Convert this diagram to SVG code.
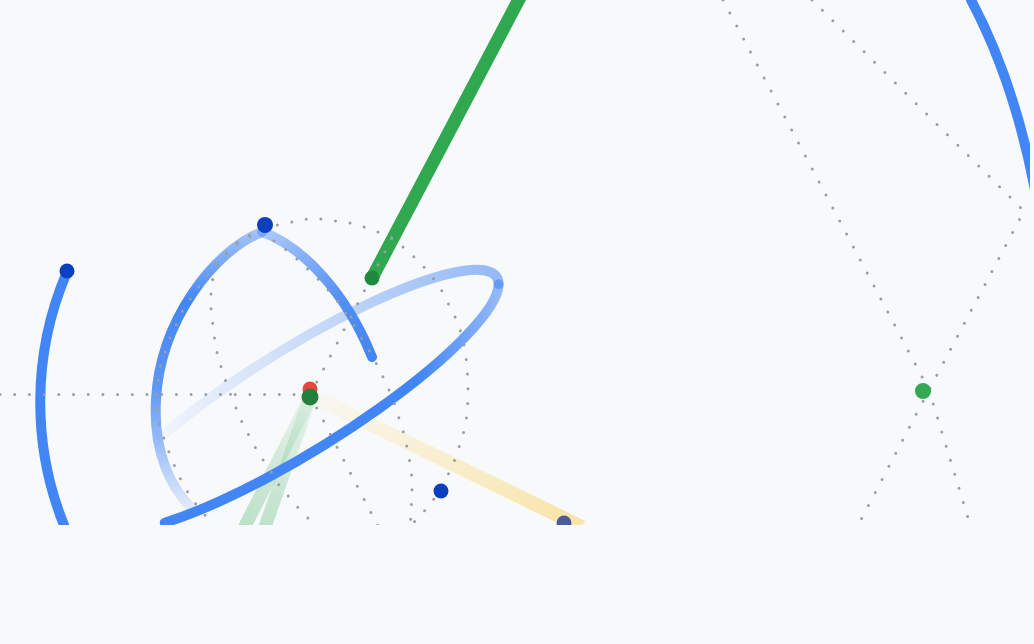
<svg xmlns="http://www.w3.org/2000/svg" width="1034" height="644" viewBox="0 0 1034 644">
  <defs>
    <style>
      .dot { fill: none; stroke: #9a9ea6; stroke-width: 3; stroke-linecap: round; stroke-dasharray: 0 14.7; }
      .thick { fill: none; stroke-linecap: round; }
      .ring { fill: none; stroke-linecap: round; stroke-width: 10; vector-effect: non-scaling-stroke; }
    </style>
    <clipPath id="clip"><rect x="0" y="0" width="1030" height="525"/></clipPath>
    <linearGradient id="gBack" gradientUnits="userSpaceOnUse" x1="1" y1="0" x2="-0.8" y2="0">
      <stop offset="0" stop-color="#4285f4" stop-opacity="0.55"/>
      <stop offset="1" stop-color="#4285f4" stop-opacity="0"/>
    </linearGradient>
    <linearGradient id="gFront" gradientUnits="userSpaceOnUse" x1="1" y1="0" x2="0.6" y2="0">
      <stop offset="0" stop-color="#4285f4" stop-opacity="0.55"/>
      <stop offset="1" stop-color="#4285f4" stop-opacity="1"/>
    </linearGradient>
    <linearGradient id="gE" gradientUnits="userSpaceOnUse" x1="262" y1="232" x2="372" y2="357">
      <stop offset="0" stop-color="#4285f4" stop-opacity="0.4"/>
      <stop offset="0.6" stop-color="#4285f4" stop-opacity="0.9"/>
      <stop offset="1" stop-color="#4285f4" stop-opacity="1"/>
    </linearGradient>
    <linearGradient id="gH" gradientUnits="userSpaceOnUse" x1="0" y1="230" x2="0" y2="515">
      <stop offset="0" stop-color="#4285f4" stop-opacity="0.45"/>
      <stop offset="0.25" stop-color="#4285f4" stop-opacity="1"/>
      <stop offset="0.55" stop-color="#4285f4" stop-opacity="0.85"/>
      <stop offset="1" stop-color="#4285f4" stop-opacity="0.08"/>
    </linearGradient>
    <linearGradient id="gGreen" gradientUnits="userSpaceOnUse" x1="310" y1="398" x2="250" y2="525">
      <stop offset="0" stop-color="#34a853" stop-opacity="0.08"/>
      <stop offset="1" stop-color="#34a853" stop-opacity="0.3"/>
    </linearGradient>
    <linearGradient id="gYellow" gradientUnits="userSpaceOnUse" x1="310" y1="395" x2="575" y2="525">
      <stop offset="0" stop-color="#fbbc04" stop-opacity="0.03"/>
      <stop offset="1" stop-color="#fbbc04" stop-opacity="0.33"/>
    </linearGradient>
  </defs>

  <rect x="0" y="0" width="1034" height="644" fill="#f8f9fb"/>

  <g clip-path="url(#clip)">
    <g id="bands">
      <line x1="310" y1="398" x2="243" y2="530" stroke="url(#gGreen)" stroke-width="13"/>
      <line x1="310" y1="398" x2="264" y2="530" stroke="url(#gGreen)" stroke-width="13"/>
      <line x1="310" y1="395" x2="582" y2="527" stroke="url(#gYellow)" stroke-width="14"/>
    </g>

    <g id="ring" transform="matrix(200 -116.2 0 59.8 298.6 400.5)">
      <path class="ring" d="M-0.766,-0.643 A1,1 0 0 1 1,0" stroke="url(#gBack)"/>
      <path class="ring" d="M1,0 A1,1 0 0 1 -0.669,0.743" stroke="url(#gFront)"/>
    </g>

    <g id="arcs">
      <path class="thick" d="M67,272 A330,330 0 0 0 66,530" stroke="#4285f4" stroke-width="10"/>
      <path class="thick" d="M971,0 C995,45 1020,110 1036,195" stroke="#4285f4" stroke-width="10"/>
      <path class="thick" d="M262,232 C215,250 160,320 156,400 C153,450 170,490 196,512" stroke="url(#gH)" stroke-width="10"/>
      <path class="thick" d="M262,232 C300,245 345,290 372,357" stroke="url(#gE)" stroke-width="10"/>
      <line class="thick" x1="372" y1="278" x2="526" y2="-14" stroke="#2fa84f" stroke-width="13"/>
    </g>

    <g id="connectors">
      <path class="dot" d="M0,394.5 H310"/>
      <path class="dot" d="M310,395 L392,238"/>
      <path class="dot" d="M310,395 L381,532"/>
      <polyline class="dot" points="263,228 277,225 292,222 307,219 321,219 336,221 350,223 364,227 378,232 392,238 402,246 412,255 423,266 433,278 442,291 449,305 456,319 462,335 465,350 467,366 468,383 468,399 467,415 464,431 459,447 454,462 447,477 440,490 431,503 421,515 410,526 400,536"/>
      <polyline class="dot" points="263,229 250,235 235,244 217,262 200,285 183,310 170,338 160,367 156,393 157,410 160,427 165,442 171,457 177,472 184,486 192,499 202,512 212,523 220,533"/>
      <polyline class="dot" points="263,230 240,242 222,258 213,277 211,293 211,309 213,326 215,342 218,357 223,373 228,388 234,403 240,418 247,432 255,447 263,460 272,473 280,487 290,498 300,510 312,522 322,533"/>
      <polyline class="dot" points="265,229 275,242 288,251 300,262 317,278 333,295 345,312 358,332 373,357 380,371 387,385 393,400 398,415 403,431 407,447 410,463 412,479 412,495 411,511 410,532"/>
      <polyline class="dot" points="723,0 929,390 972,531"/>
      <polyline class="dot" points="812,0 1024,211 929,390 855,531"/>
    </g>
  </g>

  <g id="points">
    <circle id="pole" cx="265" cy="225" r="8" fill="#0d3fc1"/>
    <circle id="south" cx="441" cy="491" r="7.5" fill="#0d3fc1"/>
    <circle id="leftEnd" cx="67" cy="271" r="7.5" fill="#0d3fc1"/>
    <circle id="greenEnd" cx="372" cy="278" r="7.5" fill="#1f8a3e"/>
    <circle id="centerRed" cx="310" cy="389" r="7.5" fill="#e8453c"/>
    <circle id="centerGreen" cx="310" cy="397" r="8.5" fill="#237f3a"/>
    <circle id="rightGreen" cx="923" cy="391" r="8" fill="#34a853"/>
    <g clip-path="url(#clip)">
      <circle id="slate" cx="564" cy="523" r="7.5" fill="#4c5b9c"/>
    </g>
  </g>
</svg>
